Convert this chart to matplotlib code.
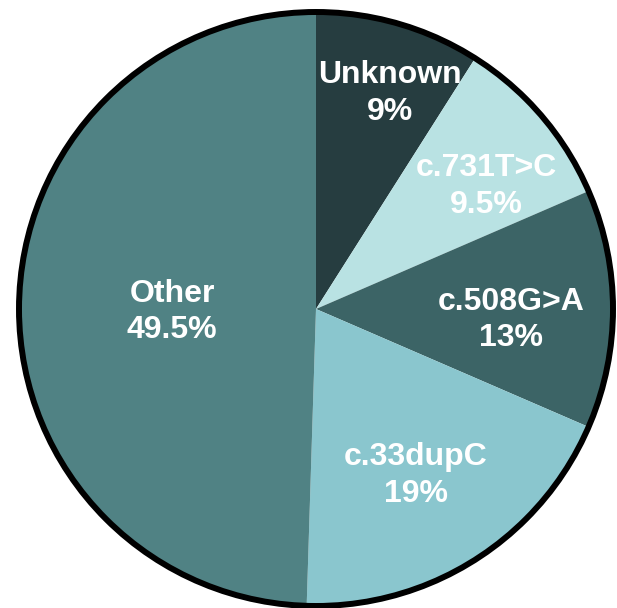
import matplotlib
matplotlib.use("Agg")
import matplotlib.pyplot as plt
from matplotlib.patches import Circle

categories = ["Unknown", "c.731T>C", "c.508G>A", "c.33dupC", "Other"]
values = [9, 9.5, 13, 19, 49.5]
pct_labels = ["9%", "9.5%", "13%", "19%", "49.5%"]

colors = ["#263D40", "#B9E2E3", "#3C6466", "#8AC6CE", "#508284"]
label_pos = [(0.249, 0.727), (0.572, 0.411), (0.657, -0.037),
             (0.337, -0.562), (-0.485, -0.010)]

fig = plt.figure(figsize=(6.17, 6.08), dpi=100)
ax = fig.add_axes([19 / 617, 2 / 608, 594 / 617, 594 / 608])
ax.pie(values, colors=colors, startangle=90, counterclock=False,
       wedgeprops=dict(linewidth=0, antialiased=True), radius=1.0)
ax.add_patch(Circle((0, 0), 1.0, fill=False, edgecolor="black", lw=4.3,
                    clip_on=False, zorder=5))
for cat, pct, (x, y) in zip(categories, pct_labels, label_pos):
    ax.text(x, y, f"{cat}\n{pct}", ha="center", va="center", color="white",
            fontsize=23, fontweight="bold", family=["Liberation Sans", "DejaVu Sans"],
            linespacing=1.3)
ax.set_xlim(-1, 1)
ax.set_ylim(-1, 1)
ax.set_aspect("equal")
ax.axis("off")
fig.savefig("out.png", dpi=100)
